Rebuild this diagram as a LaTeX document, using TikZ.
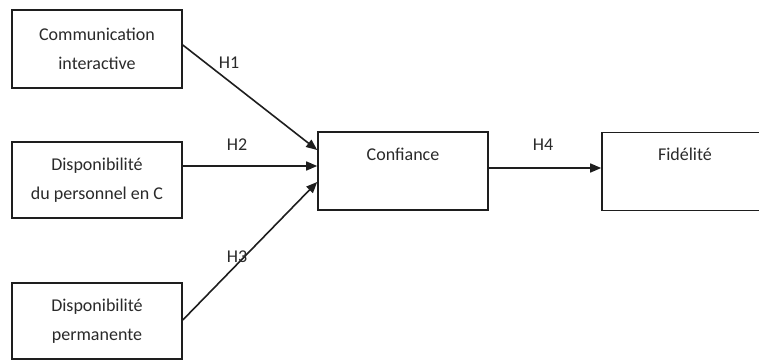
\documentclass[tikz,border=0pt]{standalone}
\usepackage{fontspec}
\setmainfont{Carlito}
\usetikzlibrary{arrows.meta,calc}
\definecolor{linegray}{HTML}{1E1E1E}
\definecolor{textgray}{HTML}{2A2A2A}
\begin{document}
\begin{tikzpicture}[x=1pt,y=-1pt,
  box/.style={draw=linegray, line width=1.6pt, minimum width=170pt,
    minimum height=77pt, inner sep=0pt, align=center,
    font=\fontsize{18}{29}\selectfont, text=textgray},
  boxtext/.style={font=\fontsize{18}{22}\selectfont, text=textgray, inner sep=0pt},
  link/.style={draw=linegray, line width=1.6pt,
    -{Triangle[length=11pt,width=9pt]}},
  hyp/.style={font=\fontsize{18}{22}\selectfont, text=textgray, inner sep=0pt}]
  \useasboundingbox (0,0) rectangle (759,361);
  \clip (0,0) rectangle (759,361);
  \fill[white] (0,0) rectangle (759,361);

  % antecedents
  \node[box, minimum height=78pt] (b1) at (97,49) {Communication\\interactive};
  \node[box, minimum height=76pt] (b2) at (97,180) {Disponibilité\\du personnel en C};
  \node[box, minimum height=76pt] (b3) at (97,321) {Disponibilité\\permanente};

  % mediator and outcome (titles sit near the top edge)
  \node[box, minimum height=78pt] (conf) at (403,171) {};
  \node[boxtext] (confT) at ($(conf.north)+(0,23)$) {Confiance};
  \node[box, minimum height=78pt] (fid) at (687,171.5) {};
  \node[boxtext] (fidT) at ($(fid.north)+(-2,23)$) {Fidélité};

  % hypotheses
  \draw[link] ([yshift=4pt]b1.east) -- ([yshift=21pt]conf.west);
  \draw[link] ([yshift=14pt]b2.east) -- ([yshift=5pt]conf.west);
  \draw[link] ([yshift=1pt]b3.east) -- ([yshift=-11pt]conf.west);
  \draw[link] ([yshift=3pt]conf.east) -- ([yshift=3.5pt]fid.west);

  \node[hyp] (h1) at (229,63) {H1};
  \node[hyp] (h2) at (237,145) {H2};
  \node[hyp] (h3) at (237,257) {H3};
  \node[hyp] (h4) at (543,145) {H4};
\end{tikzpicture}
\end{document}
